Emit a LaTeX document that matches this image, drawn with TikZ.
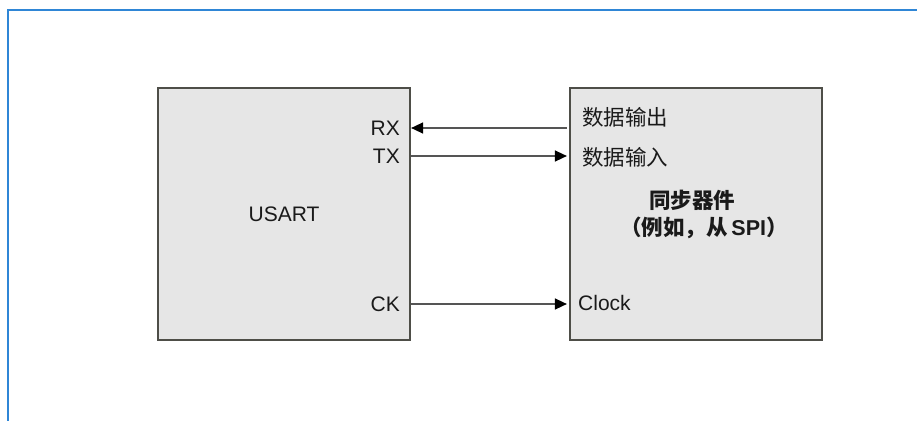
\documentclass[tikz,border=0pt]{standalone}
\usepackage{fontspec}
\setmainfont{Liberation Sans}
\newfontfamily\cjk{Noto Sans CJK SC}
\usetikzlibrary{arrows.meta}
\definecolor{framecol}{HTML}{2F86D6}
\definecolor{boxfill}{HTML}{E6E6E6}
\definecolor{boxline}{HTML}{4E4E48}
\definecolor{wirecol}{HTML}{555555}
\definecolor{txtcol}{HTML}{1A1A1A}
\tikzset{
  blockbox/.style={draw=boxline, line width=2.2pt, fill=boxfill, minimum width=252pt, minimum height=252pt, inner sep=0pt},
  pinlbl/.style={font=\fontsize{21}{25}\selectfont, text=txtcol, inner sep=0pt},
  cjklbl/.style={font=\cjk\fontsize{21.5}{25}\selectfont, text=txtcol, inner sep=0pt},
  wire/.style={draw=wirecol, line width=1.5pt, -{Triangle[length=12pt,width=11pt,fill=black,color=black]}},
  framestyle/.style={draw=framecol, line width=2pt}
}
\begin{document}
\begin{tikzpicture}[x=1pt,y=-1pt]
\useasboundingbox (0,0) rectangle (917,420);
\fill[white] (0,0) rectangle (917,420);
\draw[framestyle] (8,421) -- (8,10.5) -- (918,10.5);
\node[blockbox] (usart) at (284,214) {};
\node[blockbox] (dev) at (696,214) {};
% pin coordinates
\coordinate (rxU) at (usart.east |- 0,128);
\coordinate (txU) at (usart.east |- 0,156);
\coordinate (ckU) at (usart.east |- 0,304);
\coordinate (rxD) at ([xshift=-2pt]dev.west |- 0,128);
\coordinate (txD) at ([xshift=-2pt]dev.west |- 0,156);
\coordinate (ckD) at ([xshift=-2pt]dev.west |- 0,304);
% labels
\node[pinlbl, anchor=east] (rx) at (400,128) {RX};
\node[pinlbl, anchor=east] (tx) at (400,156) {TX};
\node[pinlbl, anchor=east] (ck) at (400,304) {CK};
\node[pinlbl] (usartlbl) at (284,214) {USART};
\node[cjklbl, anchor=west] (dout) at (582,117) {数据输出};
\node[cjklbl, anchor=west] (din) at (582,157) {数据输入};
\node[pinlbl, anchor=west] (clk) at (578,303) {Clock};
\node[cjklbl, font=\cjk\bfseries\fontsize{21.5}{25}\selectfont] (sync) at (692,200) {同步器件};
\node[cjklbl, font=\cjk\bfseries\fontsize{21.5}{25}\selectfont] (eg) at (704,228) {（例如，从\,{\fontspec{Liberation Sans}\bfseries SPI}）};
% wires
\draw[wire] (rxD) -- (rxU);
\draw[wire] (txU) -- (txD);
\draw[wire] (ckU) -- (ckD);
\end{tikzpicture}
\end{document}
